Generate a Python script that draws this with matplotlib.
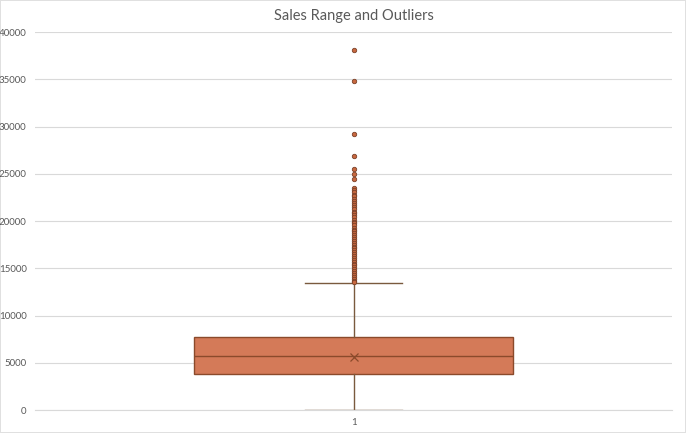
import matplotlib
matplotlib.use("Agg")
import matplotlib.pyplot as plt

# summary values
category = ["1"]
q1 = 3800
median = 5700
q3 = 7700
mean = 5600
whisker_low = 0
whisker_high = 13450
outliers = [38100, 34800, 29200, 26900, 25500, 25000, 24400, 23500,
            23300, 23050, 22800, 22600, 22350, 22100, 21900, 21700, 21450,
            21250, 21000, 20800, 20600, 20400, 20150, 19950, 19750, 19550,
            19300, 19100, 18900, 18700, 18500, 18300, 18100, 17900, 17700,
            17500, 17300, 17100, 16900, 16700, 16500, 16300, 16100, 15900,
            15700, 15500, 15300, 15100, 14900, 14700, 14500, 14300, 14100,
            13900, 13700, 13550]
yticks = [0, 5000, 10000, 15000, 20000, 25000, 30000, 35000, 40000]

plt.rcParams['font.family'] = ['Lato', 'DejaVu Sans']

fig = plt.figure(figsize=(6.86, 4.33), dpi=100)
fig.patch.set_edgecolor('#E0E0E0')
fig.patch.set_linewidth(1.2)
ax = fig.add_axes([0.051, 0.053, 0.929, 0.873])

stats = [dict(med=median, q1=q1, q3=q3, whislo=whisker_low, whishi=whisker_high,
              mean=mean, fliers=outliers, label=category[0])]
edge = '#8B4A2B'
ax.bxp(stats, positions=[1], widths=0.5, patch_artist=True, showmeans=True,
       boxprops=dict(facecolor='#D47A58', edgecolor=edge, linewidth=1.0),
       medianprops=dict(color=edge, linewidth=1.0),
       whiskerprops=dict(color='#7A5A3E', linewidth=1.0),
       capprops=dict(color='#7A5A3E', linewidth=1.0),
       capwidths=0.152,
       meanprops=dict(marker='x', markeredgecolor=edge, markersize=6, markeredgewidth=0.9),
       flierprops=dict(marker='o', markerfacecolor='#C8683F', markeredgecolor='#7A4028',
                       markersize=3.2, markeredgewidth=0.6))

ax.set_xlim(0.5, 1.5)
ax.set_ylim(0, 40000)
ax.set_yticks(yticks)
ax.set_yticklabels([str(v) for v in yticks])
ax.yaxis.grid(True, color='#D9D9D9', linewidth=0.8)
ax.set_axisbelow(True)
for s in ['left', 'right', 'top']:
    ax.spines[s].set_visible(False)
ax.spines['bottom'].set_color('#D9D9D9')
ax.tick_params(axis='both', length=0, labelsize=7, labelcolor='#595959', pad=6)
ax.set_title("Sales Range and Outliers", fontsize=10.5, color='#595959', pad=9)

fig.savefig("out.png", dpi=100)
